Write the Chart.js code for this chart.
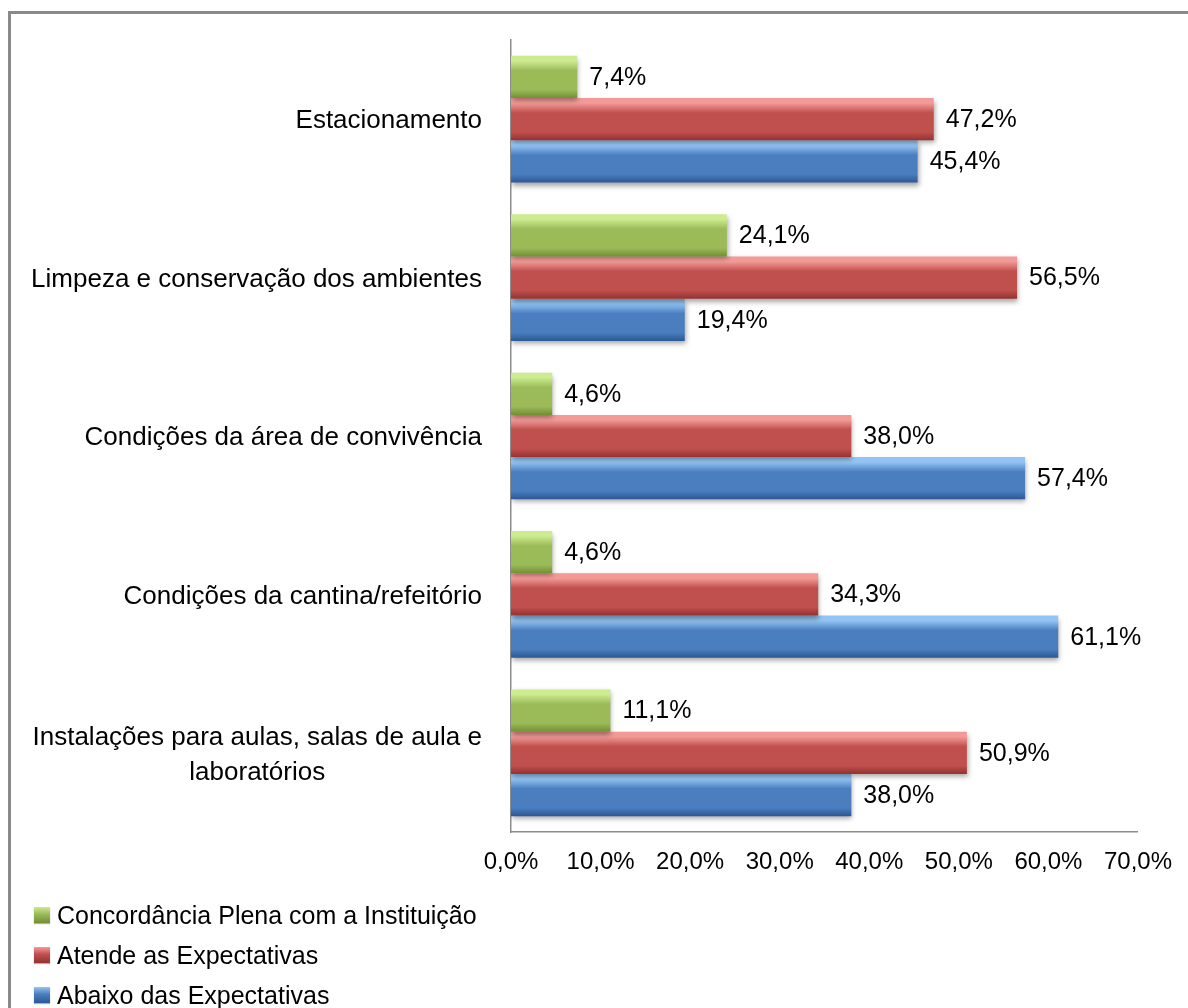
<!DOCTYPE html>
<html>
<head>
<meta charset="utf-8">
<script src="https://cdn.jsdelivr.net/npm/chart.js@4/dist/chart.umd.min.js"></script>
<style>
  html, body { margin: 0; padding: 0; background: #fff; overflow: hidden; }
  #wrap { position: relative; width: 1188px; height: 1008px; }
  #frame {
    position: absolute; left: 8px; top: 11px; width: 1300px; height: 1100px;
    border-left: 3px solid #8a8a8a; border-top: 3px solid #8a8a8a;
  }
  #chart { position: absolute; left: 0; top: 0; }
  #legend {
    position: absolute; left: 34px; top: 895px;
    font-family: 'Liberation Sans', Arial, sans-serif; font-size: 25px; color: #000;
  }
  .item { height: 40px; display: flex; align-items: center; }
  .swatch { width: 16px; height: 16px; margin-right: 7px; box-shadow: 0 1px 1px rgba(0,0,0,0.3); }
</style>
</head>
<body>
<div id="wrap">
  <div id="frame"></div>
  <canvas id="chart" width="1188" height="1008"></canvas>
  <div id="legend"></div>
</div>
<script>
// ── Data ────────────────────────────────────────────
const categories = [
  'Estacionamento',
  'Limpeza e conservação dos ambientes',
  'Condições da área de convivência',
  'Condições da cantina/refeitório',
  ['Instalações para aulas, salas de aula e', 'laboratórios'],
];
const seriesNames = [
  'Concordância Plena com a Instituição',
  'Atende as Expectativas',
  'Abaixo das Expectativas',
];
const plena   = [7.4, 24.1, 4.6, 4.6, 11.1];
const atende  = [47.2, 56.5, 38.0, 34.3, 50.9];
const abaixo  = [45.4, 19.4, 57.4, 61.1, 38.0];
const xTicks  = [0, 10, 20, 30, 40, 50, 60, 70];

// light / base / dark for each series
const palettes = [
  ['#cdeb8f', '#9bbb59', '#728f34'],
  ['#f39a97', '#c0504d', '#943230'],
  ['#93c4f4', '#4a7ebf', '#2c5894'],
];

const FONT = "'Liberation Sans', Arial, sans-serif";
const CAT_PCT = 0.8;

const fmt = v => v.toFixed(1).replace('.', ',') + '%';

function barGradient(di) {
  const [light, base, dark] = palettes[di];
  return c => {
    const chart = c.chart;
    const y = chart.scales.y;
    if (c.type !== 'data' || !chart.chartArea || !y) return base;
    const cat = chart.chartArea.height / categories.length;
    const thick = cat * CAT_PCT / 3;
    const center = y.getPixelForValue(c.dataIndex) + (di - 1) * thick;
    const g = chart.ctx.createLinearGradient(0, center - thick / 2, 0, center + thick / 2);
    g.addColorStop(0, light);
    g.addColorStop(0.12, light);
    g.addColorStop(0.35, base);
    g.addColorStop(0.8, base);
    g.addColorStop(1, dark);
    return g;
  };
}

// ── Plugins ─────────────────────────────────────────
const barShadow = {
  id: 'barShadow',
  beforeDatasetsDraw(chart) {
    const ctx = chart.ctx;
    ctx.save();
    ctx.shadowColor = 'rgba(0,0,0,0.35)';
    ctx.shadowBlur = 5;
    ctx.shadowOffsetX = 1;
    ctx.shadowOffsetY = 3;
  },
  afterDatasetsDraw(chart) {
    chart.ctx.restore();
  },
};

const textLabels = {
  id: 'textLabels',
  afterDraw(chart) {
    const ctx = chart.ctx;
    const y = chart.scales.y;
    ctx.save();
    ctx.fillStyle = '#000';
    ctx.textBaseline = 'middle';

    // category labels: block right aligned, lines centred inside it
    ctx.font = '26px ' + FONT;
    ctx.textAlign = 'center';
    const right = chart.chartArea.left - 29;
    const lineH = 35;
    categories.forEach((lab, i) => {
      const lines = Array.isArray(lab) ? lab : [lab];
      const w = Math.max(...lines.map(l => ctx.measureText(l).width));
      const cy = y.getPixelForValue(i) + (lines.length > 1 ? 3 : 2);
      lines.forEach((l, k) => {
        ctx.fillText(l, right - w / 2, cy + (k - (lines.length - 1) / 2) * lineH);
      });
    });

    // value labels
    ctx.font = '25px ' + FONT;
    ctx.textAlign = 'left';
    chart.data.datasets.forEach((ds, di) => {
      chart.getDatasetMeta(di).data.forEach((el, i) => {
        ctx.fillText(fmt(ds.data[i]), el.x + 12, el.y + 1);
      });
    });
    ctx.restore();
  },
};

// ── Chart ───────────────────────────────────────────
const seriesData = [plena, atende, abaixo];

new Chart(document.getElementById('chart'), {
  type: 'bar',
  data: {
    labels: categories,
    datasets: seriesData.map((d, i) => ({
      label: seriesNames[i],
      data: d,
      backgroundColor: barGradient(i),
      borderWidth: 0,
      categoryPercentage: CAT_PCT,
      barPercentage: 1.0,
    })),
  },
  options: {
    indexAxis: 'y',
    responsive: false,
    animation: false,
    layout: { padding: { left: 511, right: 49, top: 40, bottom: 126 } },
    plugins: {
      legend: { display: false },
      tooltip: { enabled: false },
    },
    scales: {
      x: {
        min: 0,
        max: 70,
        afterBuildTicks: s => { s.ticks = xTicks.map(v => ({ value: v })); },
        afterFit: s => { s.height = 50; },
        grid: { display: false, drawTicks: false },
        border: { display: true, color: '#8c8c8c', width: 1.5 },
        ticks: {
          color: '#000',
          padding: 16,
          maxRotation: 0,
          font: { family: FONT, size: 24 },
          callback: v => fmt(v),
        },
      },
      y: {
        grid: { display: false, drawTicks: false },
        border: { display: true, color: '#8c8c8c', width: 1.5 },
        ticks: { display: false },
      },
    },
  },
  plugins: [barShadow, textLabels],
});

// ── Legend ──────────────────────────────────────────
document.getElementById('legend').innerHTML = seriesNames.map((name, i) => `
  <div class="item">
    <span class="swatch" style="background: linear-gradient(${palettes[i][0]}, ${palettes[i][1]} 45%, ${palettes[i][2]});"></span>
    <span>${name}</span>
  </div>
`).join('');
</script>
</body>
</html>
